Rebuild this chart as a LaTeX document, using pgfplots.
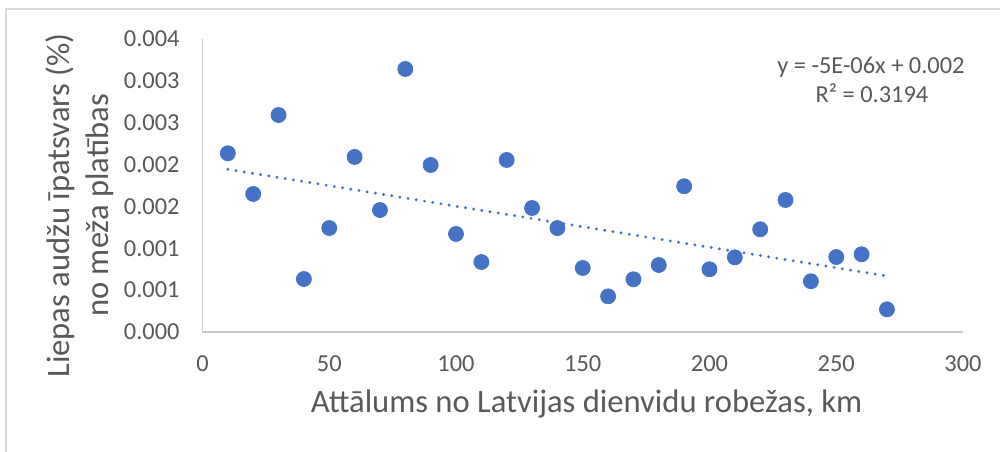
\documentclass[border=0pt]{standalone}
\usepackage{pgfplots}
\pgfplotsset{compat=1.18}
\usepackage{fontspec}
\setmainfont{Carlito}
\definecolor{ptblue}{HTML}{4472C4}
\definecolor{txtgray}{HTML}{595959}
\definecolor{axgray}{HTML}{C9C9C9}
\definecolor{framegray}{HTML}{D9D9D9}
\begin{document}
\begin{tikzpicture}
\useasboundingbox (-101.25pt,-59.5pt) rectangle (398.75pt,166pt);
\fill[white] (-101.25pt,-59.5pt) rectangle (398.75pt,166pt);
\draw[framegray, line width=0.6pt] (-98.25pt,-70pt) -- (-98.25pt,161.5pt) -- (410pt,161.5pt);
\begin{axis}[
  at={(0pt,0pt)}, anchor=south west,
  scale only axis, width=380.25pt, height=146.5pt,
  xmin=0, xmax=300, ymin=0, ymax=0.0035,
  axis x line*=bottom, axis y line*=left,
  axis line style={axgray, line width=0.8pt, -},
  major tick length=0pt,
  xtick={0,50,100,150,200,250,300},
  xticklabels={0,50,100,150,200,250,300},
  ytick={0,0.0005,0.001,0.0015,0.002,0.0025,0.003,0.0035},
  yticklabels={0.000,0.001,0.001,0.002,0.002,0.003,0.003,0.004},
  scaled y ticks=false, scaled x ticks=false,
  /pgf/number format/assume math mode=true,
  tick label style={font=\fontsize{12.2pt}{14.4pt}\selectfont, text=txtgray, inner sep=0pt},
  xticklabel style={anchor=base, yshift=-19.5pt},
  yticklabel style={anchor=east, xshift=-11.25pt},
  xlabel={Attālums no Latvijas dienvidu robežas, km},
  xlabel style={at={(rel axis cs:0.505,0)}, anchor=base, yshift=-40pt, inner sep=0pt,
    font=\fontsize{16.3pt}{19.4pt}\selectfont, text=txtgray},
  ylabel={Liepas audžu īpatsvars (\%)\\no meža platības},
  ylabel style={at={(rel axis cs:-0.161,0.432)}, anchor=center, align=center,
    font=\fontsize{16.3pt}{19.4pt}\selectfont, text=txtgray},
]
\addplot[only marks, mark=*, mark size=3.75pt, color=ptblue,
  mark options={draw=ptblue, fill=ptblue}] coordinates {
  (10,0.002135) (20,0.001649) (30,0.002592) (40,0.000633) (50,0.001242)
  (60,0.002091) (70,0.001457) (80,0.003142) (90,0.001995) (100,0.001171)
  (110,0.000836) (120,0.002055) (130,0.001481) (140,0.001242) (150,0.000765)
  (160,0.000426) (170,0.000630) (180,0.000800) (190,0.001741) (200,0.000749)
  (210,0.000892) (220,0.001227) (230,0.001577) (240,0.000606) (250,0.000896)
  (260,0.000928) (270,0.000271)
};
\addplot[ptblue, line width=1.6pt, line cap=round, dash pattern=on 0pt off 4.15pt]
  coordinates {(10,0.001944) (270,0.000669)};
\node[anchor=base, inner sep=0pt, font=\fontsize{12.2pt}{14.4pt}\selectfont, text=txtgray]
  at (axis cs:263.7,0.003082) {y = -5E-06x + 0.002};
\node[anchor=base, inner sep=0pt, font=\fontsize{12.2pt}{14.4pt}\selectfont, text=txtgray]
  at (axis cs:264.1,0.002739) {R² = 0.3194};
\end{axis}
\end{tikzpicture}
\end{document}
